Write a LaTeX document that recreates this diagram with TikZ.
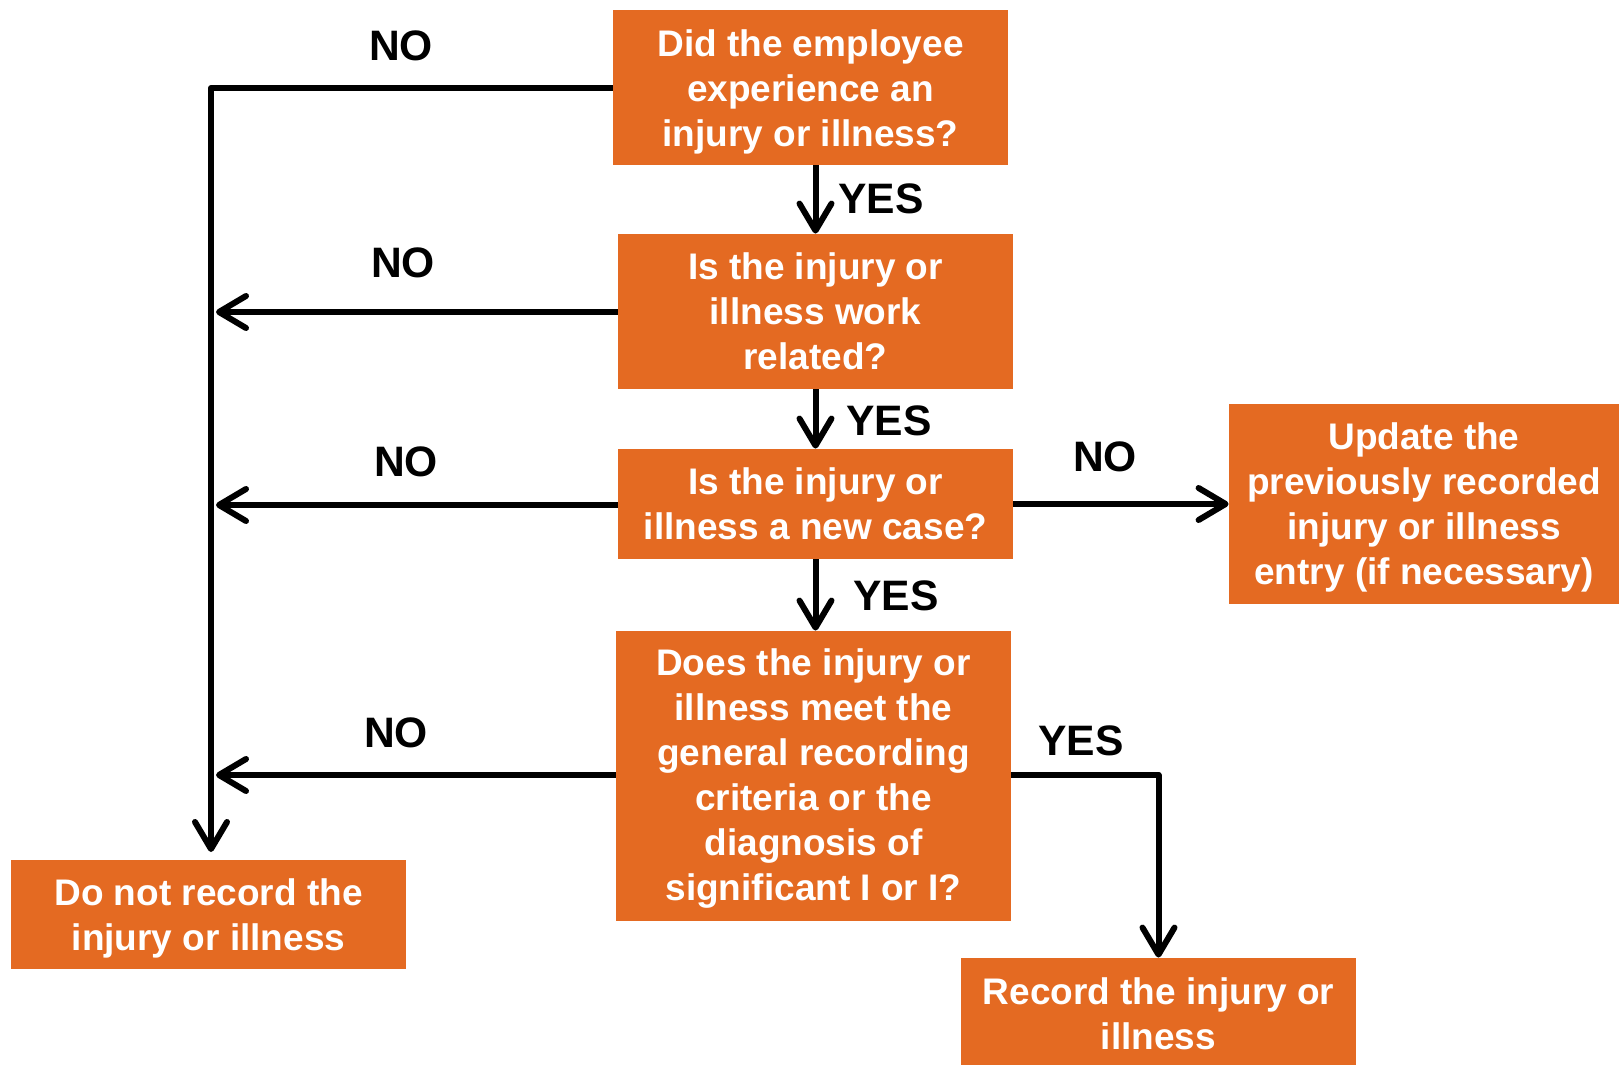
\documentclass[tikz,border=0pt]{standalone}
\usepackage{fontspec}
\setmainfont{Liberation Sans}
\usetikzlibrary{arrows.meta}
\definecolor{boxorange}{RGB}{228,106,34}
\begin{document}
\begin{tikzpicture}[x=0.5pt,y=-0.5pt,
  box/.style={fill=boxorange,draw=none,inner sep=0pt,minimum width=197.5pt},
  btext/.style={text=white,align=center,inner sep=0pt,
    font=\fontsize{18.5pt}{22.5pt}\selectfont\bfseries},
  lab/.style={text=black,inner sep=0pt,font=\fontsize{21.3pt}{25pt}\selectfont\bfseries},
  conn/.style={line width=3pt,draw=black,line join=round},
  arr/.style={conn,-{Straight Barb[length=13.5pt,width=16pt,line cap=round,line join=round]}}]
\useasboundingbox (0,0) rectangle (1619,1065);
% boxes
\node[box,minimum height=77.5pt,label={[btext,yshift=-2pt]center:{Did the employee\\experience an\\injury or illness?}}] (b1) at (810.5,87.5) {};
\node[box,minimum height=77.5pt,label={[btext]center:{Is the injury or\\illness work\\related?}}] (b2) at (815.5,311.5) {};
\node[box,minimum height=55pt,label={[btext]center:{Is the injury or\\illness a new case?}}] (b3) at (815.5,504) {};
\node[box,minimum height=145pt,label={[btext,yshift=-1.5pt]center:{Does the injury or\\illness meet the\\general recording\\criteria or the\\diagnosis of\\significant I or I?}}] (b4) at (813.5,776) {};
\node[box,minimum width=195pt,minimum height=100pt,label={[btext,yshift=-1.5pt]center:{Update the\\previously recorded\\injury or illness\\entry (if necessary)}}] (upd) at (1424,504) {};
\node[box,minimum height=54.5pt,label={[btext,yshift=-2pt]center:{Do not record the\\injury or illness}}] (no) at (208.5,914) {};
\node[box,minimum height=53.5pt,label={[btext,yshift=-1pt]center:{Record the injury or\\illness}}] (rec) at (1158.5,1011.5) {};
% coordinates
\coordinate (ctop) at (211,88);
\coordinate (cbot) at (211,852);
\coordinate (t2) at (216,312);
\coordinate (t3) at (216,505);
\coordinate (t4) at (216,775);
% connectors
\draw[arr] (b1.west |- ctop) -- (ctop) -- (cbot);
\draw[arr] (b2.west |- t2) -- (t2);
\draw[arr] (b3.west |- t3) -- (t3);
\draw[arr] (b4.west |- t4) -- (t4);
\draw[arr] (b3.east) -- (upd.west);
\draw[arr] (b1.south -| b2.north) -- (b2.north);
\draw[arr] (b2.south -| b3.north) -- (b3.north);
\draw[arr] (b3.south) -- (b3.south |- b4.north);
\draw[arr] (b4.east |- t4) -| (rec.north);
% labels
\node[lab] (n1) at (401,46) {NO};
\node[lab] (n2) at (403,263) {NO};
\node[lab] (n3) at (406,462) {NO};
\node[lab] (n4) at (396,733) {NO};
\node[lab] (n5) at (1105,457) {NO};
\node[lab] (y1) at (881,199) {YES};
\node[lab] (y2) at (889,421) {YES};
\node[lab] (y3) at (896,596) {YES};
\node[lab] (y4) at (1081,741) {YES};
\end{tikzpicture}
\end{document}
